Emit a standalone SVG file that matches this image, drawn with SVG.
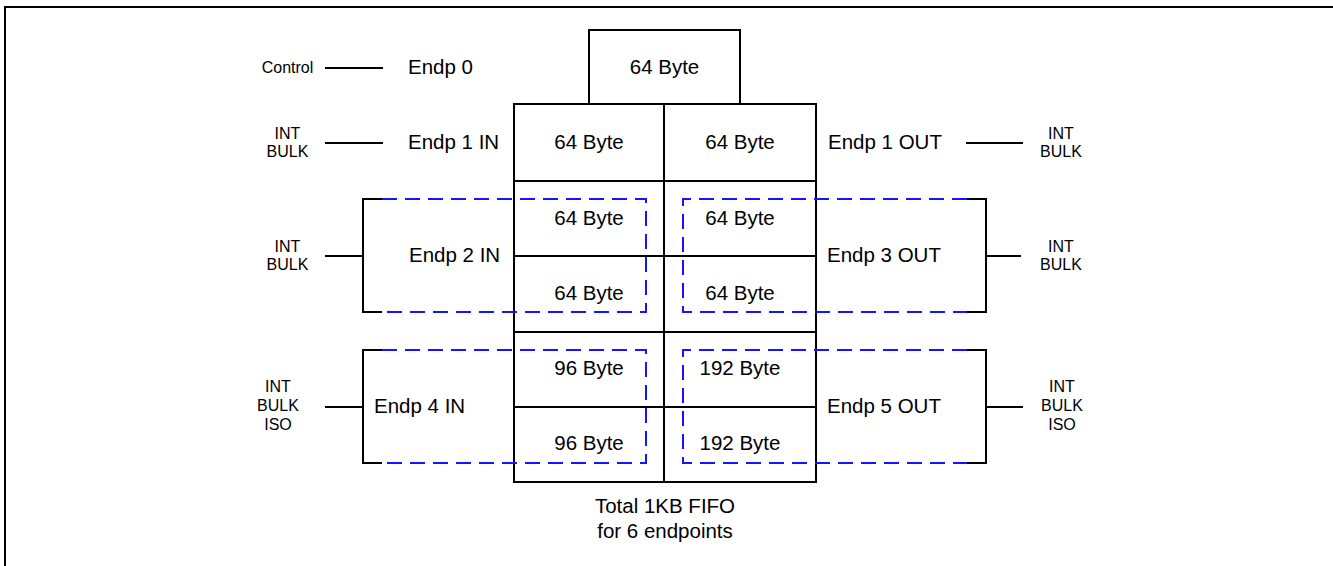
<svg xmlns="http://www.w3.org/2000/svg" width="1333" height="566" viewBox="0 0 1333 566">
<style>
.ln{stroke:#000;stroke-width:2;fill:none}
.cn{stroke:#000;stroke-width:2;fill:none}
.ds{stroke:#1414ff;stroke-width:2;fill:none;stroke-dasharray:15 8}
.big{font-family:"Liberation Sans",Arial,sans-serif;font-size:20.5px;fill:#000}
.sm{font-family:"Liberation Sans",Arial,sans-serif;font-size:16px;fill:#000;text-anchor:middle}
.mid{text-anchor:middle}
</style>
<rect width="1333" height="566" fill="#fff"/>
<path class="ln" d="M5,566 V7 H1333"/>

<g id="fifo">
<rect class="ln" x="589" y="30" width="151" height="74"/>
<rect class="ln" x="514" y="104" width="302" height="378"/>
<path class="ln" d="M664,104 V482 M514,181 H816 M514,256 H816 M514,332 H816 M514,407 H816"/>
<text class="big mid" x="664.5" y="74">64 Byte</text>
<text class="big mid" x="589" y="149">64 Byte</text>
<text class="big mid" x="740" y="149">64 Byte</text>
<text class="big mid" x="589" y="225">64 Byte</text>
<text class="big mid" x="589" y="300">64 Byte</text>
<text class="big mid" x="740" y="225">64 Byte</text>
<text class="big mid" x="740" y="300">64 Byte</text>
<text class="big mid" x="589" y="375">96 Byte</text>
<text class="big mid" x="589" y="450">96 Byte</text>
<text class="big mid" x="740" y="375">192 Byte</text>
<text class="big mid" x="740" y="450">192 Byte</text>
<text class="big mid" x="665" y="513">Total 1KB FIFO</text>
<text class="big mid" x="665" y="538">for 6 endpoints</text>
</g>

<g id="endp0">
<text class="sm" x="287.5" y="73">Control</text>
<text class="big" x="408" y="74">Endp 0</text>
</g>
<g id="endp1in">
<text class="sm" x="287.5" y="139">INT</text>
<text class="sm" x="287.5" y="157">BULK</text>
<text class="big" x="408" y="149">Endp 1 IN</text>
</g>
<g id="endp1out">
<text class="big" x="828" y="149">Endp 1 OUT</text>
<text class="sm" x="1061" y="139">INT</text>
<text class="sm" x="1061" y="157">BULK</text>
</g>
<g id="endp2in">
<text class="sm" x="287.5" y="252">INT</text>
<text class="sm" x="287.5" y="270">BULK</text>
<text class="big" x="409" y="262">Endp 2 IN</text>
<path class="ds" d="M382,199 H646 V312 H382"/>
</g>
<g id="endp3out">
<text class="big" x="827" y="262">Endp 3 OUT</text>
<text class="sm" x="1061" y="252">INT</text>
<text class="sm" x="1061" y="270">BULK</text>
<path class="ds" d="M967,199 H683 V312 H967"/>
</g>
<g id="endp4in">
<text class="sm" x="278" y="392">INT</text>
<text class="sm" x="278" y="411">BULK</text>
<text class="sm" x="278" y="430">ISO</text>
<text class="big" x="374" y="413">Endp 4 IN</text>
<path class="ds" d="M382,350 H646 V463 H382"/>
</g>
<g id="endp5out">
<text class="big" x="827" y="413">Endp 5 OUT</text>
<text class="sm" x="1062" y="392">INT</text>
<text class="sm" x="1062" y="411">BULK</text>
<text class="sm" x="1062" y="430">ISO</text>
<path class="ds" d="M967,350 H683 V463 H967"/>
</g>

<g id="connectors">
<path class="cn" d="M325,68 H383"/>
<path class="cn" d="M325,143 H383"/>
<path class="cn" d="M966,143 H1023"/>
<path class="cn" d="M325,256 H363 M382,199 H363 V312 H382"/>
<path class="cn" d="M1021,256 H986 M967,199 H986 V312 H967"/>
<path class="cn" d="M325,407 H363 M382,350 H363 V463 H382"/>
<path class="cn" d="M1023,407 H986 M967,350 H986 V463 H967"/>
</g>
</svg>
